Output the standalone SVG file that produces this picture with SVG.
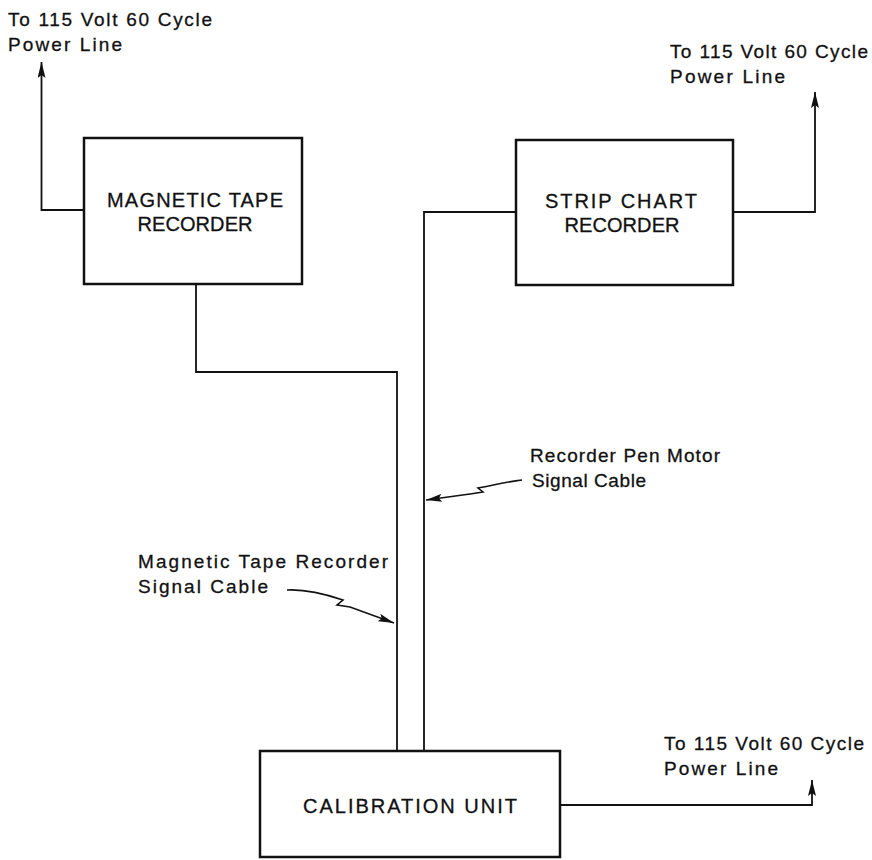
<svg xmlns="http://www.w3.org/2000/svg" width="872" height="860" viewBox="0 0 872 860">
<style>
.box{fill:none;stroke:#111;stroke-width:2.5}
.ln{fill:none;stroke:#111;stroke-width:1.8}
.ld{fill:none;stroke:#111;stroke-width:1.6}
text{font-family:"Liberation Sans",Arial,sans-serif;fill:#111;stroke:#111;stroke-width:0.3}
.lbl{font-size:19px}
.nt{font-size:20px;text-anchor:middle}
</style>
<defs>
<marker id="ah" viewBox="0 0 16 8" refX="16" refY="4" markerWidth="16" markerHeight="8" markerUnits="userSpaceOnUse" orient="auto">
<path d="M0,0 L16,4 L0,8 L3,4 Z" fill="#111"/>
</marker>
</defs>
<rect width="872" height="860" fill="#fff"/>
<g id="connectors">
<path class="ln" d="M84,210 H41.5 V62" marker-end="url(#ah)"/>
<path class="ln" d="M733,212 H815 V92" marker-end="url(#ah)"/>
<path class="ln" d="M560,805 H812 V780" marker-end="url(#ah)"/>
<path class="ln" d="M196,284 V372 H397 V751"/>
<path class="ln" d="M516,212 H424 V751"/>
<path class="ld" d="M287,590 C305,589 325,594 343,600 L337,605 L350,607 L394,623" marker-end="url(#ah)"/>
<path class="ld" d="M522,480 C505,482 490,486 478,488 L483,492 L470,494 L426,500" marker-end="url(#ah)"/>
</g>
<g id="power1">
<text class="lbl" x="8" y="26" textLength="204">To 115 Volt 60 Cycle</text>
<text class="lbl" x="8" y="51" textLength="114">Power Line</text>
</g>
<g id="power2">
<text class="lbl" x="670" y="58" textLength="198">To 115 Volt 60 Cycle</text>
<text class="lbl" x="670" y="83" textLength="115">Power Line</text>
</g>
<g id="power3">
<text class="lbl" x="664" y="750" textLength="200">To 115 Volt 60 Cycle</text>
<text class="lbl" x="664" y="775" textLength="114">Power Line</text>
</g>
<g id="magnetic-tape-recorder">
<rect class="box" x="84" y="138" width="218" height="146"/>
<text class="nt" x="195" y="207" textLength="176">MAGNETIC TAPE</text>
<text class="nt" x="195" y="231" textLength="115">RECORDER</text>
</g>
<g id="strip-chart-recorder">
<rect class="box" x="516" y="140" width="217" height="145"/>
<text class="nt" x="621" y="208" textLength="152">STRIP CHART</text>
<text class="nt" x="622" y="232" textLength="115">RECORDER</text>
</g>
<g id="calibration-unit">
<rect class="box" x="260" y="751" width="300" height="106"/>
<text class="nt" x="410" y="813" textLength="214">CALIBRATION UNIT</text>
</g>
<g id="label-mtr-cable">
<text class="lbl" x="138" y="568" textLength="250">Magnetic Tape Recorder</text>
<text class="lbl" x="138" y="593" textLength="130">Signal Cable</text>
</g>
<g id="label-pen-cable">
<text class="lbl" x="530" y="462" textLength="190">Recorder Pen Motor</text>
<text class="lbl" x="532" y="487" textLength="114">Signal Cable</text>
</g>
</svg>
